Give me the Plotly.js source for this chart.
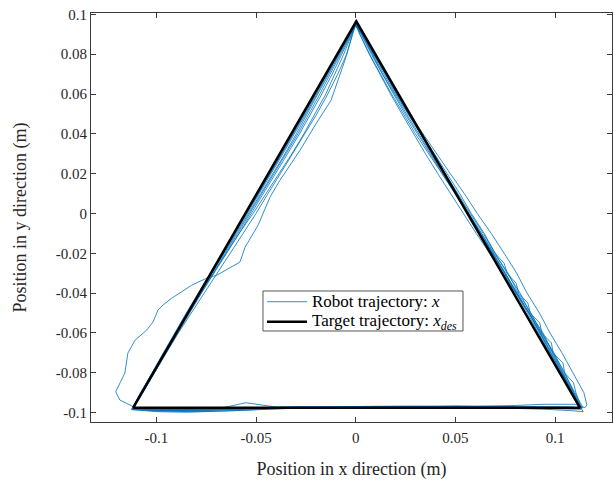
<!DOCTYPE html>
<html>
<head>
<meta charset="utf-8">
<script src="https://cdn.plot.ly/plotly-3.0.1.min.js"></script>
<style>
  html, body { margin: 0; padding: 0; background: #ffffff; }
  #chart { width: 613px; height: 480px; }
</style>
</head>
<body>
<div id="chart"></div>
<script>
// Target triangle (m): corners visited in order, closed back at the start
const targetX = [-0.1116, 0.1125, 0.0003, -0.1116];
const targetY = [-0.0975, -0.0975, 0.0965, -0.0975];

// Measured robot end-effector path, one array pair per lap (m)
const lap1X = [-0.1118,-0.09,-0.07,-0.05,-0.03,-0.01,0.01,0.03,0.05,0.07,0.09,0.1128,
  0.1085,0.0975,0.0862,0.0745,0.0625,0.0505,0.0385,0.0265,0.0150,0.0035,
  0.0002,
  -0.0030,-0.0140,-0.0250,-0.0365,-0.0485,-0.0605,-0.0722,-0.0840,-0.0955,-0.1070,-0.1117];
const lap1Y = [-0.0980,-0.0985,-0.0983,-0.0978,-0.0976,-0.0974,-0.0972,-0.0973,-0.0971,-0.0974,-0.0976,-0.0978,
  -0.09,-0.07,-0.05,-0.03,-0.01,0.01,0.03,0.05,0.07,0.09,
  0.0955,
  0.09,0.07,0.05,0.03,0.01,-0.01,-0.03,-0.05,-0.07,-0.09,-0.0976];

const lap2X = [-0.1117,-0.10,-0.085,-0.07,-0.055,-0.04,-0.02,0.0,0.02,0.04,0.06,0.08,0.10,0.1135,
  0.1095,0.1050,0.0990,0.0940,0.0875,0.0825,0.0760,0.0700,0.0640,0.0575,0.0512,0.0450,0.0385,0.0322,0.0262,0.0200,0.0142,0.0085,0.0030,
  0.0001,
  -0.0025,-0.0075,-0.0128,-0.0180,-0.0235,-0.0290,-0.0350,-0.0410,-0.0468,-0.0530,-0.0592,-0.0655,-0.0715,-0.0775,-0.0835,-0.0895,-0.0952,-0.1010,-0.1068,
  -0.1120];
const lap2Y = [-0.0976,-0.0990,-0.0992,-0.0988,-0.0982,-0.0978,-0.0975,-0.0973,-0.0971,-0.0972,-0.0970,-0.0974,-0.0977,-0.0982,
  -0.09,-0.08,-0.07,-0.06,-0.05,-0.04,-0.03,-0.02,-0.01,0.0,0.01,0.02,0.03,0.04,0.05,0.06,0.07,0.08,0.09,
  0.0952,
  0.09,0.08,0.07,0.06,0.05,0.04,0.03,0.02,0.01,0.0,-0.01,-0.02,-0.03,-0.04,-0.05,-0.06,-0.07,-0.08,-0.09,
  -0.0980];

const lap3X = [-0.1120,-0.10,-0.08,-0.065,-0.055,-0.047,-0.04,-0.02,0.0,0.02,0.04,0.06,0.08,0.10,0.1130,
  0.1090,0.0985,0.0870,0.0750,0.0625,0.0500,0.0378,0.0255,0.0135,0.0030,
  -0.0004,-0.0054,-0.0124,-0.0204,-0.0279,-0.0380,-0.0430,-0.0490,-0.0555,-0.0581,-0.0631,-0.0697,-0.0748,
  -0.0823,-0.0873,-0.0923,-0.0967,-0.0992,-0.1017,-0.1049,-0.1107,-0.1143,-0.1158,-0.1183,-0.1204,-0.1183,-0.1116];
const lap3Y = [-0.0980,-0.0988,-0.0990,-0.0972,-0.0950,-0.0962,-0.0972,-0.0972,-0.0969,-0.0968,-0.0970,-0.0972,-0.0973,-0.0972,-0.0975,
  -0.09,-0.07,-0.05,-0.03,-0.01,0.01,0.03,0.05,0.07,0.09,
  0.0945,0.0769,0.0568,0.0443,0.0318,0.0167,0.0082,-0.0059,-0.0169,-0.0244,-0.0274,-0.0310,-0.0325,
  -0.0360,-0.0393,-0.0425,-0.0460,-0.0485,-0.0545,-0.0586,-0.0636,-0.0701,-0.0801,-0.0851,-0.0895,-0.0937,-0.0970];

const lap4X = [-0.1116,-0.095,-0.075,-0.06,-0.045,-0.03,-0.01,0.01,0.03,0.05,0.07,0.09,0.105,0.1140,
  0.1100,0.1045,0.0995,0.0930,0.0880,0.0815,0.0765,0.0695,0.0632,0.0565,0.0500,0.0430,0.0365,0.0300,0.0240,0.0180,0.0125,0.0070,0.0020,
  0.0002,
  -0.0020,-0.0060,-0.0105,-0.0150,-0.0205,-0.0260,-0.0320,-0.0385,-0.0450,-0.0515,-0.0585,-0.0650,-0.0715,-0.0780,-0.0840,-0.0902,-0.0962,-0.1020,-0.1078,
  -0.1122];
const lap4Y = [-0.0978,-0.0984,-0.0986,-0.0982,-0.0975,-0.0970,-0.0972,-0.0969,-0.0971,-0.0968,-0.0971,-0.0975,-0.0972,-0.0975,
  -0.09,-0.08,-0.07,-0.06,-0.05,-0.04,-0.03,-0.02,-0.01,0.0,0.01,0.02,0.03,0.04,0.05,0.06,0.07,0.08,0.09,
  0.0948,
  0.09,0.08,0.07,0.06,0.05,0.04,0.03,0.02,0.01,0.0,-0.01,-0.02,-0.03,-0.04,-0.05,-0.06,-0.07,-0.08,-0.09,
  -0.0982];

const lap5X = [-0.1122,-0.10,-0.08,-0.06,-0.04,-0.02,0.0,0.02,0.04,0.06,0.08,0.095,0.110,0.1150,
  0.1160,0.1145,0.1090,0.1035,0.0975,0.0922,0.0860,0.0808,0.0745,0.0680,0.0610,0.0545,0.0475,0.0405,0.0338,0.0272,0.0208,0.0150,0.0090,0.0035,
  0.0,
  -0.0033,-0.0143,-0.0255,-0.0372,-0.0490,-0.0608,-0.0730,-0.0848,-0.0962,-0.1078,
  -0.1120];
const lap5Y = [-0.0982,-0.0992,-0.0995,-0.0990,-0.0980,-0.0976,-0.0975,-0.0973,-0.0970,-0.0969,-0.0964,-0.0958,-0.0958,-0.0975,
  -0.0962,-0.09,-0.08,-0.07,-0.06,-0.05,-0.04,-0.03,-0.02,-0.01,0.0,0.01,0.02,0.03,0.04,0.05,0.06,0.07,0.08,0.09,
  0.0955,
  0.09,0.07,0.05,0.03,0.01,-0.01,-0.03,-0.05,-0.07,-0.09,
  -0.0985];

const lap6X = [-0.1120,-0.10,-0.085,-0.07,-0.05,-0.035,-0.02,0.0,0.015,0.03,0.045,0.06,0.08,0.095,0.108,0.1142,
  0.1135,0.1105,0.1093,0.1048,0.1040,0.0990,0.0982,0.0933,0.0924,0.0876,0.0864,0.0818,0.0805,0.0760,0.0745,0.0700,
  0.0645,0.0580,0.0522,0.0460,0.0395,0.0330,0.0265,0.0205,0.0148,0.0092,0.0036,
  0.0003,
  -0.0028,-0.0080,-0.0135,-0.0190,-0.0242,-0.0298,-0.0355,-0.0415,-0.0475,-0.0537,-0.0598,-0.0660,-0.0722,-0.0783,-0.0843,-0.0903,-0.0960,-0.1020,-0.1080,
  -0.1125];
const lap6Y = [-0.0985,-0.0995,-0.0998,-0.0993,-0.0985,-0.0978,-0.0974,-0.0972,-0.0969,-0.0967,-0.0969,-0.0973,-0.0978,-0.0983,-0.0990,-0.0995,
  -0.0985,-0.09,-0.085,-0.08,-0.075,-0.07,-0.065,-0.06,-0.055,-0.05,-0.045,-0.04,-0.035,-0.03,-0.025,-0.02,
  -0.01,0.0,0.01,0.02,0.03,0.04,0.05,0.06,0.07,0.08,0.09,
  0.0958,
  0.09,0.08,0.07,0.06,0.05,0.04,0.03,0.02,0.01,0.0,-0.01,-0.02,-0.03,-0.04,-0.05,-0.06,-0.07,-0.08,-0.09,
  -0.0985];

const lap7X = [-0.1125,-0.10,-0.08,-0.065,-0.05,-0.03,-0.01,0.01,0.03,0.05,0.07,0.09,0.1125,
  0.1090,0.0980,0.0868,0.0748,0.0622,0.0498,0.0372,0.0248,0.0190,0.0132,0.0078,0.0028,
  0.0,
  -0.0015,-0.0045,-0.0090,-0.0140,-0.0195,-0.0255,-0.0318,-0.0378,-0.0440,-0.0500,-0.0565,-0.0630,-0.0695,-0.0760,-0.0825,-0.0890,-0.0950,-0.1012,-0.1070,
  -0.1118];
const lap7Y = [-0.0985,-0.0988,-0.0982,-0.0978,-0.0980,-0.0977,-0.0975,-0.0974,-0.0972,-0.0974,-0.0976,-0.0972,-0.0978,
  -0.09,-0.07,-0.05,-0.03,-0.01,0.01,0.03,0.05,0.06,0.07,0.08,0.09,
  0.0950,
  0.09,0.08,0.07,0.06,0.05,0.04,0.03,0.02,0.01,0.0,-0.01,-0.02,-0.03,-0.04,-0.05,-0.06,-0.07,-0.08,-0.09,
  -0.0978];

const lap8X = [-0.1118,-0.10,-0.08,-0.06,-0.04,-0.02,0.0,0.02,0.04,0.06,0.08,0.10,0.1130,
  0.1088,0.1035,0.0982,0.0925,0.0870,0.0808,0.0752,0.0690,0.0630,0.0568,0.0508,0.0448,0.0388,0.0328,0.0268,0.0210,0.0152,0.0095,0.0038,
  0.0001,
  -0.0036,-0.0148,-0.0258,-0.0370,-0.0488,-0.0610,-0.0732,-0.0850,-0.0965,-0.1022,-0.1080,
  -0.1122];
const lap8Y = [-0.0978,-0.0983,-0.0987,-0.0984,-0.0979,-0.0976,-0.0977,-0.0975,-0.0973,-0.0975,-0.0978,-0.0980,-0.0982,
  -0.09,-0.08,-0.07,-0.06,-0.05,-0.04,-0.03,-0.02,-0.01,0.0,0.01,0.02,0.03,0.04,0.05,0.06,0.07,0.08,0.09,
  0.0960,
  0.09,0.07,0.05,0.03,0.01,-0.01,-0.03,-0.05,-0.07,-0.08,-0.09,
  -0.0980];

const lap9X = [-0.1122,-0.10,-0.09,-0.07,-0.05,-0.03,-0.01,0.01,0.03,0.05,0.07,0.09,0.105,0.1132,
  0.1095,0.1040,0.0990,0.0935,0.0870,0.0805,0.0738,0.0672,0.0605,0.0540,0.0475,0.0412,0.0350,0.0290,0.0232,0.0175,0.0120,0.0068,0.0022,
  0.0,
  -0.0022,-0.0068,-0.0118,-0.0170,-0.0225,-0.0282,-0.0342,-0.0402,-0.0462,-0.0522,-0.0585,-0.0648,-0.0712,-0.0775,-0.0838,-0.0898,-0.0958,-0.1018,-0.1075,
  -0.1118];
const lap9Y = [-0.0980,-0.0986,-0.0990,-0.0985,-0.0976,-0.0973,-0.0970,-0.0968,-0.0969,-0.0966,-0.0968,-0.0970,-0.0973,-0.0976,
  -0.09,-0.08,-0.07,-0.06,-0.05,-0.04,-0.03,-0.02,-0.01,0.0,0.01,0.02,0.03,0.04,0.05,0.06,0.07,0.08,0.09,
  0.0950,
  0.09,0.08,0.07,0.06,0.05,0.04,0.03,0.02,0.01,0.0,-0.01,-0.02,-0.03,-0.04,-0.05,-0.06,-0.07,-0.08,-0.09,
  -0.0976];

// Axis ticks (hyphen-minus labels)
const xTickVals = [-0.1, -0.05, 0, 0.05, 0.1];
const xTickText = ['-0.1', '-0.05', '0', '0.05', '0.1'];
const yTickVals = [-0.1, -0.08, -0.06, -0.04, -0.02, 0, 0.02, 0.04, 0.06, 0.08, 0.1];
const yTickText = ['-0.1', '-0.08', '-0.06', '-0.04', '-0.02', '0', '0.02', '0.04', '0.06', '0.08', '0.1'];

// Legend entries
const legendLabels = ['Robot trajectory: <i>x</i>', 'Target trajectory: <i>x<sub>des</sub></i>'];

const robotX = [].concat(lap1X, lap2X, lap3X, lap4X, lap5X, lap6X, lap7X, lap8X, lap9X);
const robotY = [].concat(lap1Y, lap2Y, lap3Y, lap4Y, lap5Y, lap6Y, lap7Y, lap8Y, lap9Y);

const serif = 'Liberation Serif, Times New Roman, serif';
const axisColor = '#3a3a3a';
const textColor = '#262626';
const robotColor = '#0072BD';
const targetColor = '#000000';

const traces = [
  {
    x: robotX, y: robotY,
    type: 'scatter', mode: 'lines',
    name: legendLabels[0],
    showlegend: false,
    line: { color: robotColor, width: 0.8 }
  },
  {
    x: targetX, y: targetY,
    type: 'scatter', mode: 'lines',
    name: legendLabels[1],
    showlegend: false,
    line: { color: targetColor, width: 2.5 }
  }
];

const axisCommon = {
  showgrid: false,
  zeroline: false,
  showline: true,
  linecolor: axisColor,
  linewidth: 1,
  mirror: 'ticks',
  ticks: 'inside',
  ticklen: 5,
  tickcolor: axisColor,
  tickwidth: 1,
  tickfont: { family: serif, size: 15, color: textColor },
  tickmode: 'array'
};

// Boxed legend placed inside the axes (paper coordinates)
const legBox = { x0: 0.3301, x1: 0.7140, y0: 0.2225, y1: 0.3203 };
const legRows = [0.2941, 0.2452];
const legLine = { x0: 0.3378, x1: 0.4146 };
const legTextX = 0.4203;

const shapes = [
  { type: 'rect', xref: 'paper', yref: 'paper', x0: legBox.x0, x1: legBox.x1, y0: legBox.y0, y1: legBox.y1,
    line: { color: '#555555', width: 1 }, fillcolor: '#ffffff', layer: 'above' },
  { type: 'line', xref: 'paper', yref: 'paper', x0: legLine.x0, x1: legLine.x1, y0: legRows[0], y1: legRows[0],
    line: { color: robotColor, width: 0.8 }, layer: 'above' },
  { type: 'line', xref: 'paper', yref: 'paper', x0: legLine.x0, x1: legLine.x1, y0: legRows[1], y1: legRows[1],
    line: { color: targetColor, width: 2.5 }, layer: 'above' }
];

const annotations = legendLabels.map((label, i) => ({
  xref: 'paper', yref: 'paper',
  x: legTextX, y: legRows[i],
  xanchor: 'left', yanchor: 'middle',
  text: label, showarrow: false,
  font: { family: serif, size: 17, color: '#000000' }
}));

const layout = {
  width: 613,
  height: 480,
  margin: { l: 91, r: 1, t: 13, b: 58 },
  paper_bgcolor: '#ffffff',
  plot_bgcolor: '#ffffff',
  showlegend: false,
  shapes: shapes,
  annotations: annotations,
  xaxis: Object.assign({}, axisCommon, {
    range: [-0.1328, 0.1286],
    tickvals: xTickVals,
    ticktext: xTickText,
    ticklabelstandoff: 2,
    title: { text: 'Position in x direction (m)', font: { family: serif, size: 18, color: textColor }, standoff: 18 }
  }),
  yaxis: Object.assign({}, axisCommon, {
    range: [-0.1047, 0.1007],
    tickvals: yTickVals,
    ticktext: yTickText,
    title: { text: 'Position in y direction (m)', font: { family: serif, size: 18, color: textColor }, standoff: 24 }
  })
};

Plotly.newPlot('chart', traces, layout, { displayModeBar: false, staticPlot: true });
</script>
</body>
</html>
